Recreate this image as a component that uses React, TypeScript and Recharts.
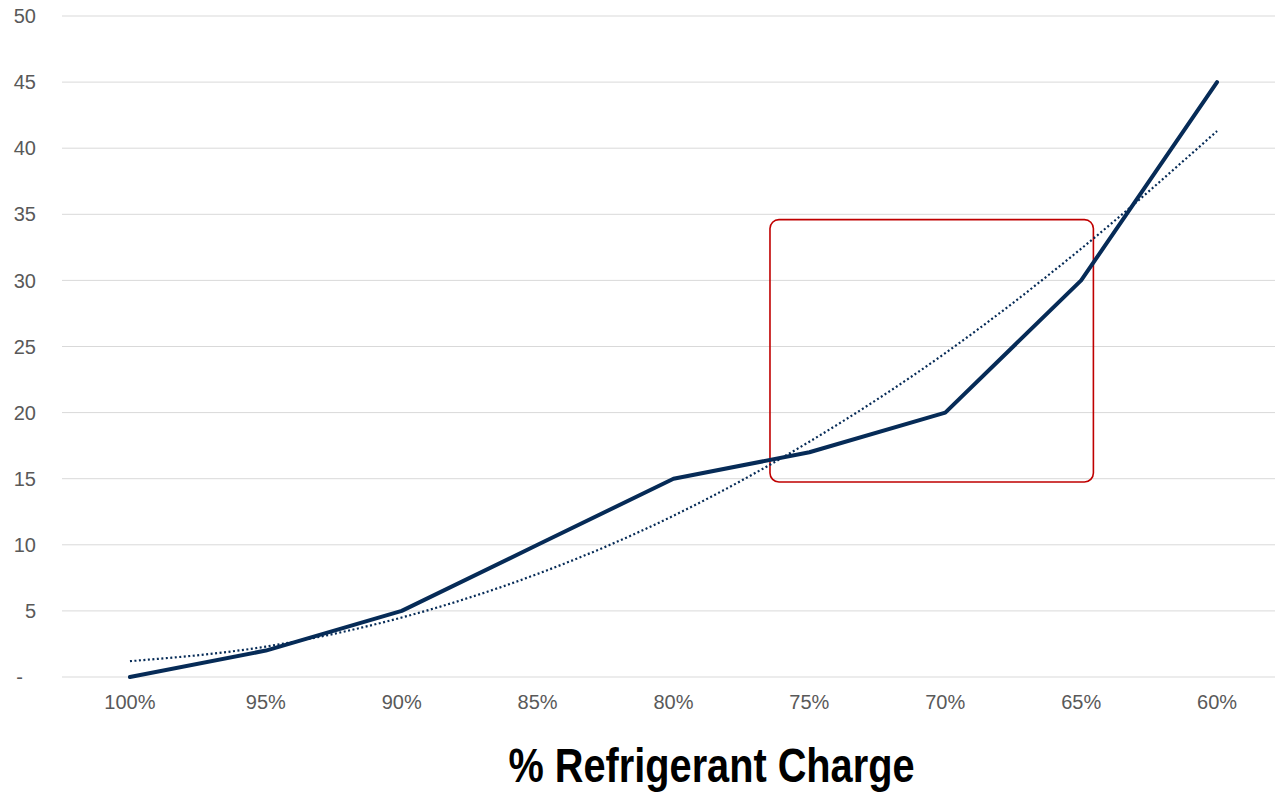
import {
  CartesianGrid,
  Label,
  Line,
  LineChart,
  ReferenceArea,
  XAxis,
  YAxis,
} from "recharts";

const categories = ["100%", "95%", "90%", "85%", "80%", "75%", "70%", "65%", "60%"];
const lossValues = [0, 2, 5, 10, 15, 17, 20, 30, 45];
const trendValues = [1.2, 2.3, 4.5, 7.8, 12.2, 17.8, 24.5, 32.4, 41.3];
const yTicks = [0, 5, 10, 15, 20, 25, 30, 35, 40, 45, 50];

// highlight box, in data units (x = category index)
const boxX = [4.71, 7.09];
const boxY = [14.75, 34.6];

const data = categories.map((name, i) => ({
  idx: i,
  name,
  loss: lossValues[i],
  trend: trendValues[i],
}));

const NAVY = "#062B57";
const FONT = "'Liberation Sans', Arial, sans-serif";

function YTick(props: any) {
  const { y, payload } = props;
  const zero = payload.value === 0;
  return (
    <text
      x={zero ? 23 : 36}
      y={y}
      dy="0.355em"
      textAnchor="end"
      fill="#595959"
      fontSize={20}
      fontFamily={FONT}
    >
      {zero ? "-" : payload.value}
    </text>
  );
}

// bold condensed axis title (no narrow font installed, so squeeze it)
function AxisTitle(props: any) {
  const { viewBox } = props;
  const cx = viewBox.x + viewBox.width / 2 + 38;
  const y = viewBox.y + viewBox.height - 10;
  return (
    <text
      x={cx}
      y={y}
      textAnchor="middle"
      fill="#000"
      fontSize={48}
      fontWeight="bold"
      fontFamily={FONT}
      textLength={406}
      lengthAdjust="spacingAndGlyphs"
    >
      % Refrigerant Charge
    </text>
  );
}

export default function App() {
  return (
    <div
      style={{
        position: "absolute",
        left: 0,
        top: 0,
        width: 1275,
        height: 792,
        overflow: "hidden",
        background: "#fff",
      }}
    >
      <LineChart
        width={1285}
        height={792}
        data={data}
        margin={{ top: 16, right: 0, bottom: 0, left: 0 }}
      >
        <CartesianGrid vertical={false} stroke="#D9D9D9" strokeWidth={1} />
        <XAxis
          dataKey="idx"
          type="number"
          domain={[-0.5, 8.5]}
          ticks={[0, 1, 2, 3, 4, 5, 6, 7, 8]}
          tickFormatter={(i: number) => categories[i]}
          axisLine={false}
          tickLine={false}
          tickSize={0}
          tickMargin={18}
          height={115}
          tick={{ fill: "#595959", fontSize: 20, fontFamily: FONT }}
        >
          <Label content={<AxisTitle />} />
        </XAxis>
        <YAxis
          domain={[0, 50]}
          ticks={yTicks}
          width={62}
          axisLine={false}
          tickLine={false}
          tick={<YTick />}
        />
        <ReferenceArea
          x1={boxX[0]}
          x2={boxX[1]}
          y1={boxY[0]}
          y2={boxY[1]}
          shape={(p: any) => (
            <rect
              x={p.x}
              y={p.y}
              width={p.width}
              height={p.height}
              rx={9}
              fill="none"
              stroke="#C00000"
              strokeWidth={1.6}
            />
          )}
        />
        <Line
          type="monotone"
          dataKey="trend"
          stroke={NAVY}
          strokeWidth={2.2}
          strokeDasharray="2 2.5"
          dot={false}
          isAnimationActive={false}
        />
        <Line
          type="linear"
          dataKey="loss"
          stroke={NAVY}
          strokeWidth={4}
          strokeLinecap="round"
          strokeLinejoin="round"
          dot={false}
          isAnimationActive={false}
        />
      </LineChart>
    </div>
  );
}
